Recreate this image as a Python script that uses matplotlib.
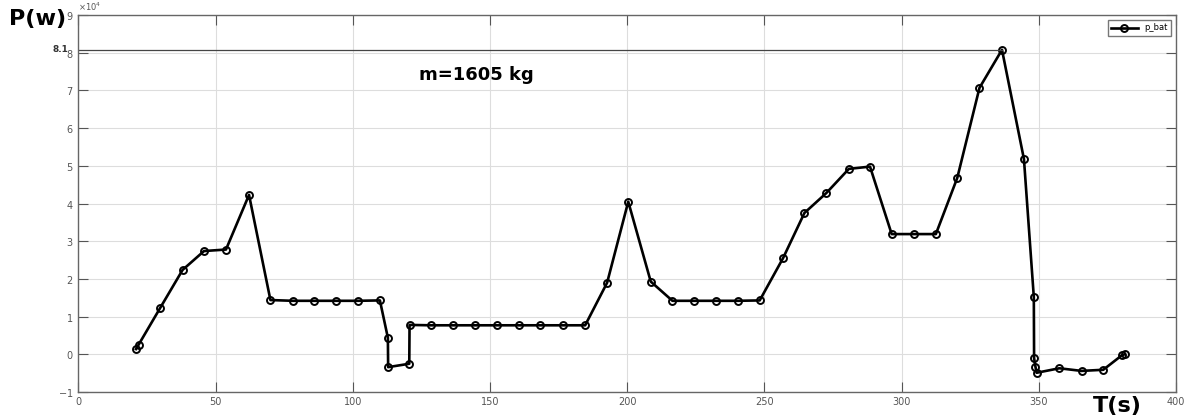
import matplotlib
matplotlib.use("Agg")
import matplotlib.pyplot as plt
from matplotlib.ticker import ScalarFormatter, MultipleLocator

t = [21.0, 22.0, 29.9, 38.0, 45.8, 53.8, 62.2, 70.0, 78.1, 86.0, 93.9, 102.0,
     109.9, 112.8, 112.9, 120.6, 120.7, 128.5, 136.6, 144.5, 152.5, 160.5,
     168.4, 176.6, 184.7, 192.7, 200.4, 208.6, 216.5, 224.4, 232.4, 240.4,
     248.3, 256.8, 264.6, 272.6, 280.8, 288.5, 296.4, 304.4, 312.5, 320.3,
     328.4, 336.6, 344.6, 348.2, 348.3, 348.8, 349.2, 357.5, 365.6, 373.5,
     380.4, 381.3]
p_bat = [1400, 2600, 12400, 22400, 27400, 27800, 42300, 14400, 14200, 14200,
         14200, 14200, 14300, 4400, -3400, -2500, 7800, 7700, 7700, 7700, 7700,
         7700, 7700, 7700, 7700, 19000, 40500, 19300, 14200, 14200, 14200,
         14200, 14300, 25500, 37500, 42800, 49200, 49800, 31900, 31900, 31900,
         46800, 70700, 80800, 51800, 15200, -1000, -3300, -4900, -3700, -4400,
         -4100, -200, 0]

peak_label = "8.1"
mass_label = "m=1605 kg"

fig = plt.figure(figsize=(11.87, 4.19), dpi=100)
ax = fig.add_axes([0.066, 0.0644, 0.9247, 0.8996])

ax.plot(t, p_bat, color="black", linewidth=1.9, marker="o", markersize=5,
        markerfacecolor="none", markeredgecolor="black", markeredgewidth=1.4,
        label="p_bat")

ipk = p_bat.index(max(p_bat))
ax.plot([0, t[ipk]], [p_bat[ipk], p_bat[ipk]], color="#444444", linewidth=0.9)

ax.set_xlim(0, 400)
ax.set_ylim(-10000, 90000)
ax.xaxis.set_major_locator(MultipleLocator(50))
ax.yaxis.set_major_locator(MultipleLocator(10000))
fmt = ScalarFormatter(useMathText=True)
fmt.set_powerlimits((4, 4))
ax.yaxis.set_major_formatter(fmt)
ax.yaxis.get_offset_text().set_fontsize(6)
ax.yaxis.get_offset_text().set_color("#555555")

ax.grid(True, color="#dddddd", linewidth=0.8)
ax.set_axisbelow(True)
ax.tick_params(direction="in", top=True, right=True, labelsize=7,
               labelcolor="#555555", color="#555555", length=7)
for s in ax.spines.values():
    s.set_color("#666666")
    s.set_linewidth(1.0)

leg = ax.legend(loc="upper right", fontsize=6, frameon=True, fancybox=False,
                edgecolor="#555555", handlelength=3.2, borderpad=0.4,
                borderaxespad=0.6)
leg.get_frame().set_linewidth(1.0)

fig.text(0.008, 0.955, "P(w)", fontsize=16, fontweight="bold", ha="left", va="center")
fig.text(0.921, 0.03, "T(s)", fontsize=16, fontweight="bold", ha="left", va="center")
ax.text(0.31, 0.84, mass_label, transform=ax.transAxes, fontsize=13,
        fontweight="bold", ha="left", va="center")
fig.text(0.044, 0.882, peak_label, fontsize=6.5, fontweight="bold", ha="left",
         va="center", color="#333333")

fig.savefig("out.png", dpi=100)
